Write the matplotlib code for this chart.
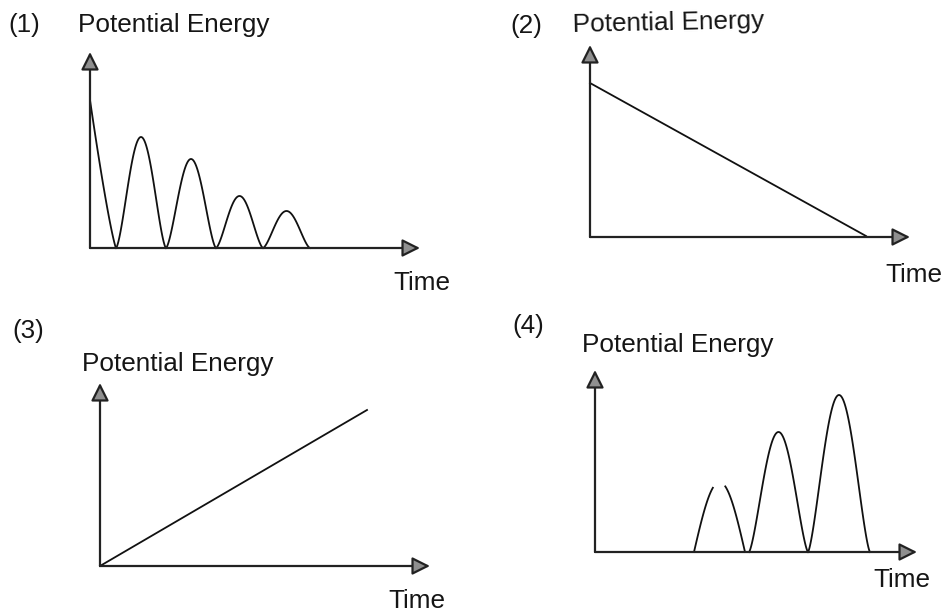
import numpy as np
import matplotlib
matplotlib.use("Agg")
import matplotlib.pyplot as plt

plt.rcParams['font.family'] = ['Liberation Sans', 'DejaVu Sans']

W, H = 946, 616

# panel frames in pixels: origin x, origin y, arrow tip x, arrow tip y
frames = {
    1: (90, 248, 420, 52),
    2: (590, 237, 910, 45),
    3: (100, 566, 430, 383),
    4: (595, 552, 917, 370),
}

# (1) damped bounce: drop from a start height, then shrinking humps
p1_start = 14.8
p1_zeros = [2.6, 7.6, 12.6, 17.3, 22.0]
p1_peaks = [11.1, 8.9, 5.2, 3.7]

# (2) straight fall
p2_t = [0.0, 27.6]
p2_e = [15.4, 0.1]

# (3) straight rise
p3_t = [0.0, 26.7]
p3_e = [0.0, 15.6]

# (4) growing humps (first hump broken at the top)
p4_starts = [9.9, 15.4, 21.3]
p4_ends = [15.0, 21.3, 27.5]
p4_peaks = [7.0, 12.0, 15.7]
p4_gap = (11.8, 13.0)

fig = plt.figure(figsize=(W / 100, H / 100), dpi=100)
fig.patch.set_facecolor('white')

AX_COL = '#222222'
LINE_COL = '#111111'


def make_panel(key):
    x0, y0, x1, y1 = frames[key]
    ax = fig.add_axes([x0 / W, 1 - y0 / H, (x1 - x0) / W, (y0 - y1) / H])
    ax.set_xlim(0, (x1 - x0) / 10)
    ax.set_ylim(0, (y0 - y1) / 10)
    ax.axis('off')
    xm, ym = ax.get_xlim()[1], ax.get_ylim()[1]
    arrow = dict(arrowstyle='-|>,head_length=0.6,head_width=0.3', lw=1.6,
                 ec=AX_COL, fc='#8f8f8f', mutation_scale=18,
                 shrinkA=0, shrinkB=0)
    ax.annotate('', xy=(0, ym), xytext=(0, 0), arrowprops=arrow, annotation_clip=False)
    ax.annotate('', xy=(xm, 0), xytext=(0, 0), arrowprops=arrow, annotation_clip=False)
    return ax


def hump(a, b, h, p=1.5, n=120):
    t = np.linspace(a, b, n)
    return t, h * np.sin(np.pi * (t - a) / (b - a)) ** p


# panel 1
ax = make_panel(1)
t = np.linspace(0, p1_zeros[0], 60)
ax.plot(t, p1_start * (1 - t / p1_zeros[0]) ** 1.2, color=LINE_COL, lw=1.3, clip_on=False)
for a, b, h in zip(p1_zeros[:-1], p1_zeros[1:], p1_peaks):
    tt, ee = hump(a, b, h)
    ax.plot(tt, ee, color=LINE_COL, lw=1.3, clip_on=False)

# panel 2
ax = make_panel(2)
ax.plot(p2_t, p2_e, color=LINE_COL, lw=1.3, clip_on=False)

# panel 3
ax = make_panel(3)
ax.plot(p3_t, p3_e, color=LINE_COL, lw=1.3, clip_on=False)

# panel 4
ax = make_panel(4)
for i, (a, b, h) in enumerate(zip(p4_starts, p4_ends, p4_peaks)):
    tt, ee = hump(a, b, h, p=1.0 if i == 0 else 1.4)
    if i == 0:
        ee = np.where((tt > p4_gap[0]) & (tt < p4_gap[1]), np.nan, ee)
    ax.plot(tt, ee, color=LINE_COL, lw=1.3, clip_on=False)

# labels (pixel positions, baseline)
labels = [
    ("(1)", 8, 32), ("Potential Energy", 78, 32), ("Time", 393, 290),
    ("(2)", 510, 33), ("Potential Energy", 572, 32), ("Time", 885, 282),
    ("(3)", 12, 338), ("Potential Energy", 82, 371), ("Time", 388, 608),
    ("(4)", 512, 333), ("Potential Energy", 582, 352), ("Time", 873, 587),
]
for s, x, y in labels:
    rot = 1.2 if (s == "Potential Energy" and x == 572) else 0
    fig.text(x / W, 1 - y / H, s, fontsize=18.8, color='#151515',
             ha='left', va='baseline', rotation=rot)

fig.savefig('out.png', dpi=100, facecolor='white')
